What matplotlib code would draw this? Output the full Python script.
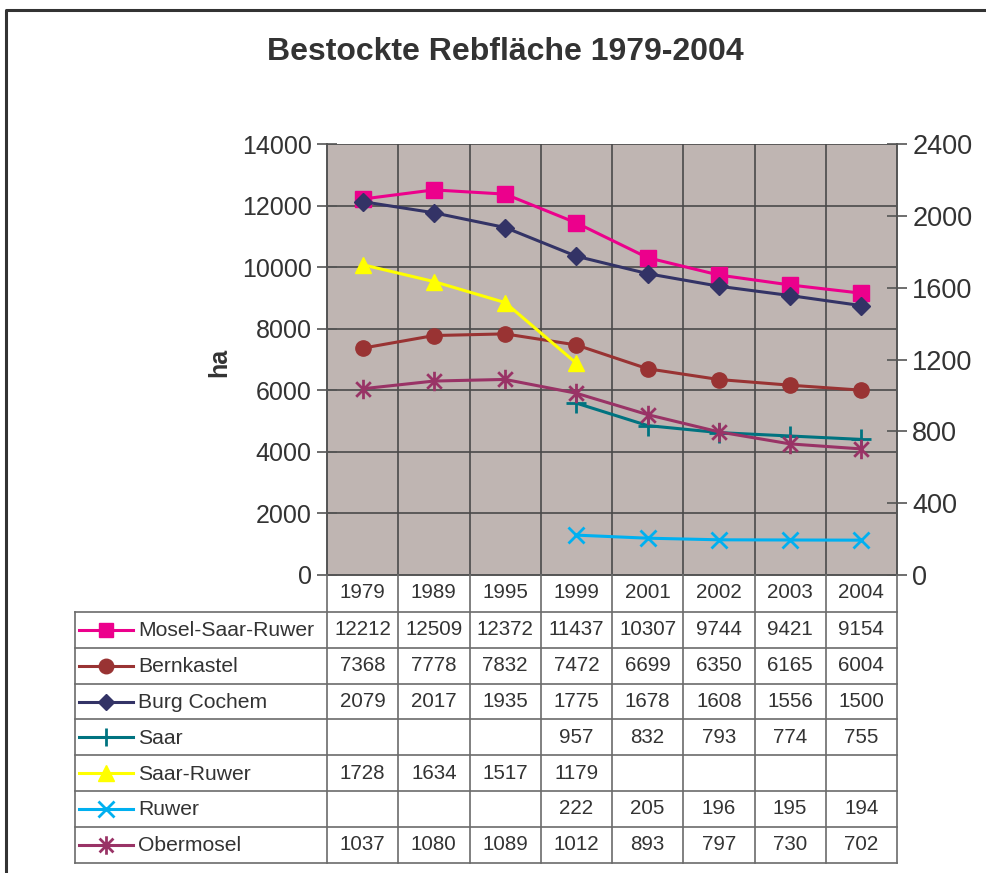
import matplotlib
matplotlib.use("Agg")
import matplotlib.pyplot as plt
from matplotlib.path import Path
import numpy as np

plt.rcParams['font.family'] = ['Liberation Sans', 'DejaVu Sans']

years = ["1979", "1989", "1995", "1999", "2001", "2002", "2003", "2004"]
series_names = ["Mosel-Saar-Ruwer", "Bernkastel", "Burg Cochem", "Saar",
                "Saar-Ruwer", "Ruwer", "Obermosel"]

mosel_saar_ruwer = [12212, 12509, 12372, 11437, 10307, 9744, 9421, 9154]
bernkastel = [7368, 7778, 7832, 7472, 6699, 6350, 6165, 6004]
burg_cochem = [2079, 2017, 1935, 1775, 1678, 1608, 1556, 1500]
saar = [None, None, None, 957, 832, 793, 774, 755]
saar_ruwer = [1728, 1634, 1517, 1179, None, None, None, None]
ruwer = [None, None, None, 222, 205, 196, 195, 194]
obermosel = [1037, 1080, 1089, 1012, 893, 797, 730, 702]

# excel style star: vertical bar plus an x
star = Path([(0, -1), (0, 1), (-0.75, -0.75), (0.75, 0.75), (-0.75, 0.75), (0.75, -0.75)],
            [Path.MOVETO, Path.LINETO, Path.MOVETO, Path.LINETO, Path.MOVETO, Path.LINETO])

all_series = [mosel_saar_ruwer, bernkastel, burg_cochem, saar, saar_ruwer, ruwer, obermosel]
colors = ["#EC008C", "#993333", "#333366", "#007380", "#FFFF00", "#00B0F0", "#993366"]
markers = ["s", "o", "D", "+", "^", "x", star]
msizes = [11, 11, 9, 14, 12, 12, 14]
on_right = [False, False, True, True, True, True, True]
open_marks = [False, False, False, True, False, True, True]

W, H = 987, 873
fig = plt.figure(figsize=(W / 100, H / 100), dpi=100)

# plot area in pixels
px0, px1, py0, py1 = 327, 897, 144, 575
ax = fig.add_axes([px0 / W, 1 - py1 / H, (px1 - px0) / W, (py1 - py0) / H])
ax.set_facecolor("#BFB5B2")
ax2 = ax.twinx()

x = np.arange(len(years))
for name, vals, c, m, ms, right, op in zip(series_names, all_series, colors, markers,
                                           msizes, on_right, open_marks):
    y = np.array([np.nan if v is None else v for v in vals], dtype=float)
    target = ax2 if right else ax
    mew = 2 if op else 1
    target.plot(x, y, color=c, lw=2.2, marker=m, markersize=ms,
                markeredgewidth=mew, markeredgecolor=c, markerfacecolor=c, zorder=3)

ax.set_xlim(-0.5, len(years) - 0.5)
ax.set_ylim(0, 14000)
ax2.set_ylim(0, 2400)
ax.set_yticks(np.arange(0, 14001, 2000))
ax2.set_yticks(np.arange(0, 2401, 400))
ax.set_xticks(np.arange(-0.5, len(years), 1.0))
ax.set_xticklabels([])
ax.tick_params(axis='x', length=0)
ax.grid(True, color="#4a4a4a", lw=1.2)
ax.set_axisbelow(True)
ax.tick_params(axis='y', direction='inout', length=14, width=1.2, color="#555555",
               labelsize=18, labelcolor="#333333", pad=4)
ax2.tick_params(axis='y', direction='inout', length=14, width=1.2, color="#555555",
                labelsize=19.5, labelcolor="#333333", pad=4)
for a in (ax, ax2):
    for s in a.spines.values():
        s.set_color("#555555")
        s.set_linewidth(1.2)
    a.spines['top'].set_visible(False)

# overlay for title, border and data table
ov = fig.add_axes([0, 0, 1, 1], facecolor='none')
ov.set_xlim(0, W)
ov.set_ylim(H, 0)
ov.axis('off')

ov.plot([6, 6, W + 5], [H + 5, 10, 10], color="#333333", lw=2.2)
ov.text(505, 52, "Bestockte Rebfläche 1979-2004", fontsize=23, fontweight='bold',
        color="#333333", ha='center', va='center')
ov.text(219, 362, "ha", fontsize=18, fontweight='bold', color="#333333",
        rotation=90, ha='center', va='center')

col_w = (px1 - px0) / len(years)
tx0 = 75
row_top = 612
row_h = 35.8
n_rows = len(series_names)
tbl_bottom = row_top + n_rows * row_h
line_c = "#6b6b6b"

# header year row
for i, yr in enumerate(years):
    ov.text(px0 + (i + 0.5) * col_w, 592, yr, fontsize=14.8, color="#333333",
            ha='center', va='center')
for i in range(len(years) + 1):
    ov.plot([px0 + i * col_w] * 2, [py1, tbl_bottom], color=line_c, lw=1.2)
ov.plot([tx0, tx0], [row_top, tbl_bottom], color=line_c, lw=1.2)
for r in range(n_rows + 1):
    ov.plot([tx0, px1], [row_top + r * row_h] * 2, color=line_c, lw=1.2)

for r, (name, vals, c, m, ms, op) in enumerate(zip(series_names, all_series, colors,
                                                   markers, msizes, open_marks)):
    yc = row_top + (r + 0.5) * row_h
    ov.plot([79, 133], [yc, yc], color=c, lw=2.2)
    mew = 2 if op else 1
    ov.plot([106], [yc], marker=m, markersize=ms * 0.95, color=c, markeredgewidth=mew,
            markeredgecolor=c)
    ov.text(138, yc + 1, name, fontsize=15.2, color="#333333", ha='left', va='center')
    for i, v in enumerate(vals):
        if v is not None:
            ov.text(px0 + (i + 0.5) * col_w, yc, str(v), fontsize=14.8, color="#333333",
                    ha='center', va='center')

fig.savefig("out.png", dpi=100)
